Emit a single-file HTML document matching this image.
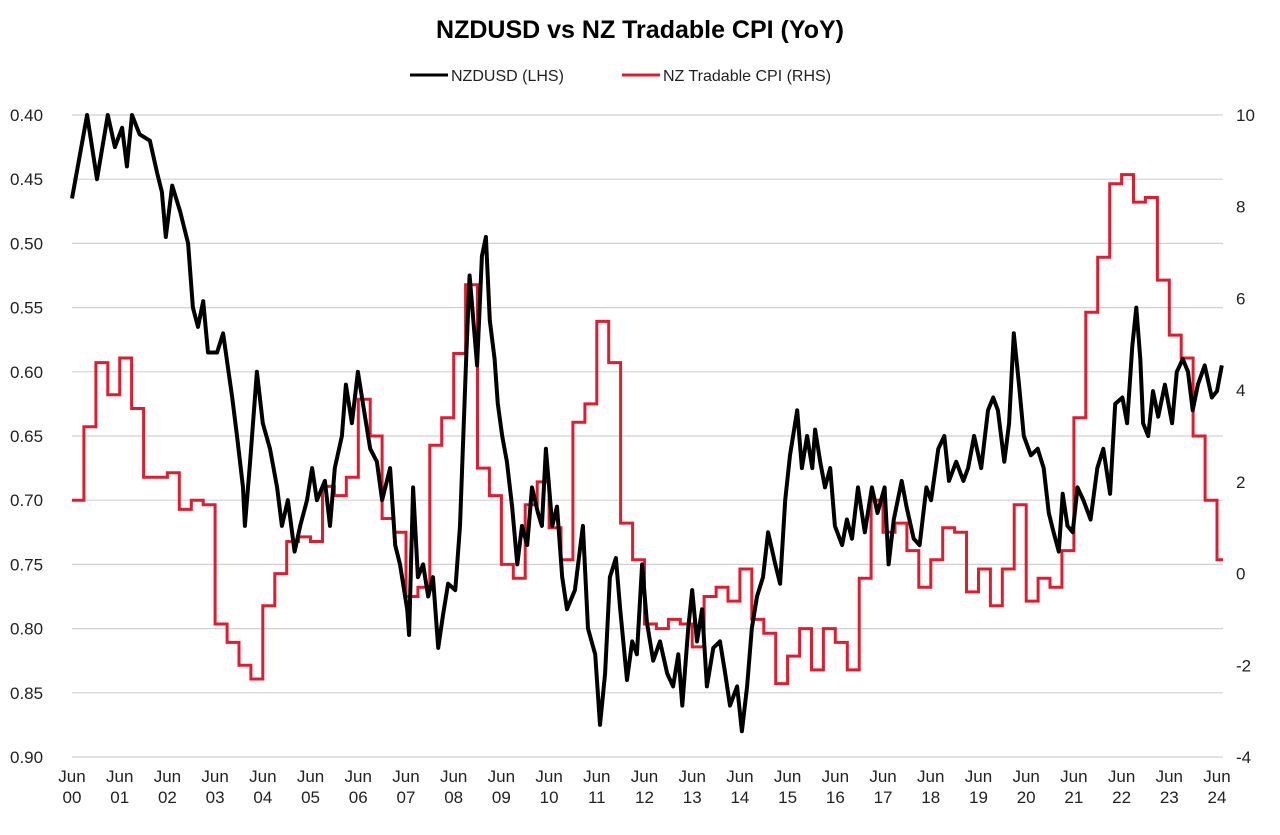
<!DOCTYPE html>
<html><head><meta charset="utf-8">
<style>
html,body{margin:0;padding:0;background:#fff;}
svg{display:block;font-family:"Liberation Sans",sans-serif;}
</style></head>
<body>
<svg id="chart" width="1280" height="835" viewBox="0 0 1280 835">
<text x="640" y="38" text-anchor="middle" font-size="25" font-weight="bold" fill="#000">NZDUSD vs NZ Tradable CPI (YoY)</text>
<g>
<g>
<line x1="410" y1="75" x2="448" y2="75" stroke="#000" stroke-width="3"/>
<text x="451" y="81" font-size="16" fill="#222">NZDUSD (LHS)</text>
</g>
<g>
<line x1="622" y1="75" x2="660" y2="75" stroke="#e21b2e" stroke-width="3"/>
<text x="663" y="81" font-size="16" fill="#222">NZ Tradable CPI (RHS)</text>
</g>
</g>
<g id="grid"></g>
<g id="yleft"></g>
<g id="yright"></g>
<g id="xaxis"></g>
<g id="series"></g>
</svg>
<script>
// months since Jun 2000
const fxMonths = [0,3.8,6.3,9,10.8,12.6,13.8,15.1,17,19.6,21.4,22.6,23.6,25.2,27.2,29.2,30.4,31.7,33,34.2,36.5,38,40.3,41.5,43,43.5,44.8,46.5,48,49.8,51.6,52.8,54.3,56,57.4,59.1,60.4,61.6,63.6,64.9,66.1,67.9,68.9,70.4,71.9,73.2,75,76.7,78,80,81.3,82.5,84.3,84.8,85.8,87,88.3,89.6,90.8,92.1,93.3,94.6,96.4,97.6,99.2,100,101.9,103.1,104.1,105.1,106.3,107.1,108.2,109.4,110.7,112,113.2,114.5,115.7,117.2,118.2,119.2,120.8,122,123.3,124.5,126.5,128.5,129.8,131.6,132.8,134.1,135.3,136.8,137.9,139.6,140.9,142.1,143.4,144.6,146.2,147.9,149.7,151.2,152.5,153.5,155,156,157.2,158.5,159.7,161.3,163,164.3,165.5,167.3,168.5,169.8,171,172.3,173.8,175.1,176.9,178.1,179.4,180.6,182.4,183.6,184.9,186.2,186.9,188.2,189.4,190.7,191.9,193.7,194.9,196.2,197.7,199.4,201.2,202.6,204.4,205.4,206.7,208.7,209.9,211.7,213.2,214.9,216.1,217.9,219.4,220.6,222.4,224.2,225.4,226.9,228.7,230.4,231.7,232.9,234.5,235.7,236.9,238.2,239.4,241.2,242.9,244.4,245.7,246.9,248.2,249.2,250.4,251.7,252.9,254.4,256.2,257.9,259.4,261.1,262.4,264.2,265.4,266.7,267.7,268.7,269.4,270.7,271.9,273.2,274.9,276.7,277.9,279.4,280.7,281.9,283.2,284.9,286.7,288,289.2];
const fxValues = [.465,.40,.45,.40,.425,.41,.44,.40,.415,.42,.445,.46,.495,.455,.475,.50,.55,.565,.545,.585,.585,.57,.62,.65,.69,.72,.67,.60,.64,.66,.69,.72,.70,.74,.72,.70,.675,.70,.685,.72,.675,.65,.61,.64,.60,.625,.66,.67,.70,.675,.735,.75,.785,.805,.69,.76,.75,.775,.76,.815,.79,.765,.77,.72,.585,.525,.595,.51,.495,.56,.59,.625,.65,.67,.705,.75,.72,.735,.69,.71,.72,.66,.72,.705,.76,.785,.77,.72,.80,.82,.875,.835,.76,.745,.785,.84,.81,.82,.75,.795,.825,.81,.835,.845,.82,.86,.80,.77,.81,.785,.845,.815,.81,.835,.86,.845,.88,.845,.80,.775,.76,.725,.75,.765,.70,.665,.63,.675,.65,.675,.645,.67,.69,.675,.72,.735,.715,.73,.69,.725,.69,.71,.69,.75,.715,.685,.705,.73,.735,.69,.70,.66,.65,.685,.67,.685,.675,.65,.675,.63,.62,.63,.67,.64,.57,.61,.65,.665,.66,.675,.71,.725,.74,.695,.72,.725,.69,.70,.715,.675,.66,.695,.625,.62,.64,.58,.55,.59,.64,.65,.615,.635,.61,.64,.60,.59,.60,.63,.61,.595,.62,.615,.595];
// quarterly tradable CPI YoY %, starting Jun 2000
const cpiValues = [1.6,3.2,4.6,3.9,4.7,3.6,2.1,2.1,2.2,1.4,1.6,1.5,-1.1,-1.5,-2.0,-2.3,-0.7,0.0,0.7,0.8,0.7,1.9,1.7,2.1,3.8,3.0,1.2,0.9,-0.5,-0.3,2.8,3.4,4.8,6.3,2.3,1.7,0.2,-0.1,1.5,2.0,1.0,0.3,3.3,3.7,5.5,4.6,1.1,0.3,-1.1,-1.2,-1.0,-1.1,-1.6,-0.5,-0.3,-0.6,0.1,-1.0,-1.3,-2.4,-1.8,-1.2,-2.1,-1.2,-1.5,-2.1,-0.1,1.6,0.9,1.1,0.5,-0.3,0.3,1.0,0.9,-0.4,0.1,-0.7,0.1,1.5,-0.6,-0.1,-0.3,0.5,3.4,5.7,6.9,8.5,8.7,8.1,8.2,6.4,5.2,4.7,3.0,1.6,0.3];
const leftTicks = [0.40,0.45,0.50,0.55,0.60,0.65,0.70,0.75,0.80,0.85,0.90];
const rightTicks = [10,8,6,4,2,0,-2,-4];
const xYears = ["00","01","02","03","04","05","06","07","08","09","10","11","12","13","14","15","16","17","18","19","20","21","22","23","24"];

const X0=72, X1=1217, PR=1223, YT=115, YB=757;
const xm = m => X0 + (X1-X0)*m/288;
const yl = v => YT + (v-0.40)/(0.50)*(YB-YT);
const yr = v => YT + (10-v)/14*(YB-YT);
const NS="http://www.w3.org/2000/svg";
function mk(tag, attrs, parent){const e=document.createElementNS(NS,tag);for(const k in attrs)e.setAttribute(k,attrs[k]);parent.appendChild(e);return e;}

const grid=document.getElementById('grid'), yL=document.getElementById('yleft'), yR=document.getElementById('yright'), xa=document.getElementById('xaxis'), se=document.getElementById('series');
leftTicks.forEach(t=>{
  const l=mk('line',{x1:X0,x2:PR,y1:yl(t),y2:yl(t),stroke:'#d0d0d0','stroke-width':1.2},grid);
  
  
  const tx=mk('text',{x:10,y:yl(t)+6,'font-size':17,fill:'#222'},yL);
  tx.textContent=t.toFixed(2);
  
  
});
rightTicks.forEach(t=>{
  const tx=mk('text',{x:1236,y:yr(t)+6,'font-size':17,fill:'#222'},yR);
  tx.textContent=String(t);
  
  
});
xYears.forEach((y,i)=>{
  const x=xm(i*12);
  const a=mk('text',{x:x,y:782,'font-size':17,'text-anchor':'middle',fill:'#222'},xa);
  a.textContent='Jun';
  
  
  const b=mk('text',{x:x,y:803,'font-size':17,'text-anchor':'middle',fill:'#222'},xa);
  b.textContent=y;
  
  
});
// CPI step line
let d='';
cpiValues.forEach((v,k)=>{
  const xs=xm(k*3), xe=Math.min(xm((k+1)*3),PR), y=yr(v);
  d += (k===0?'M':'L')+xs.toFixed(1)+','+y.toFixed(1)+'L'+xe.toFixed(1)+','+y.toFixed(1);
});
const cpi=mk('path',{d:d,fill:'none',stroke:'#e21b2e','stroke-width':3,'stroke-linejoin':'miter'},se);


// NZDUSD line
let d2='';
fxValues.forEach((v,i)=>{d2+=(i===0?'M':'L')+xm(fxMonths[i]).toFixed(1)+','+yl(v).toFixed(1);});
const fx=mk('path',{d:d2,fill:'none',stroke:'#000','stroke-width':4,'stroke-linejoin':'round'},se);


</script>
</body></html>
